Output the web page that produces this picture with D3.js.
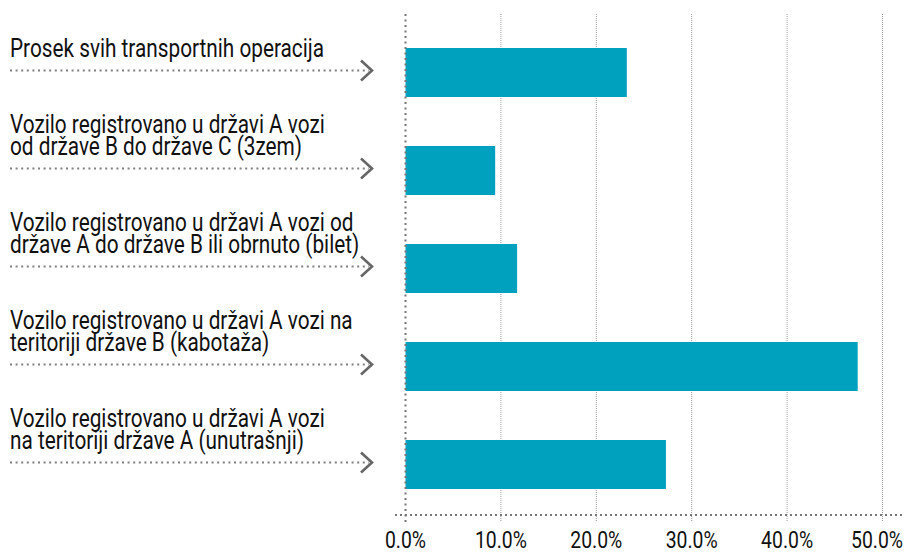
<!DOCTYPE html>
<html lang="sr">
<head>
<meta charset="UTF-8">
<title>Vozila</title>
<script src="https://cdn.jsdelivr.net/npm/d3@7"></script>
<style>
  body { margin: 0; background: #fff; }
  text { font-family: Roboto, "Noto Sans", sans-serif; fill: #111; }
</style>
</head>
<body>
<svg width="904" height="553"></svg>
<script>
// data
const categories = [
  ["Prosek svih transportnih operacija"],
  ["Vozilo registrovano u državi A vozi", "od države B do države C (3zem)"],
  ["Vozilo registrovano u državi A vozi od", "države A do države B ili obrnuto (bilet)"],
  ["Vozilo registrovano u državi A vozi na", "teritoriji države B (kabotaža)"],
  ["Vozilo registrovano u državi A vozi", "na teritoriji države A (unutrašnji)"]
];
const values = [23.2, 9.4, 11.7, 47.4, 27.3];
const ticks = [0, 10, 20, 30, 40, 50];

const svg = d3.select("svg");
const W = 904;
const barColor = "#00a1bf";
const labelSize = 26, tickSize = 24;

const x = d3.scaleLinear().domain([0, 50]).range([405.5, 882.5]);
const y = d3.scaleBand()
  .domain(d3.range(categories.length))
  .range([23.5, 513.5])
  .paddingInner(0.5)
  .paddingOuter(0.25);

const gridTop = 14, gridBottom = 522, axisY = 515;

// squeeze the font horizontally so it looks like a condensed face
function squeeze(str, size, target) {
  const t = svg.append("text").style("font-size", size + "px").text(str);
  const k = target / t.node().getComputedTextLength();
  t.remove();
  return k;
}
const sxLabel = squeeze(categories[1][0], labelSize, 315);
const sxTick = squeeze("10.0%", tickSize, 52);

// grid lines
svg.append("g").selectAll("line")
  .data(ticks.slice(1))
  .join("line")
  .attr("x1", d => x(d)).attr("x2", d => x(d))
  .attr("y1", gridTop).attr("y2", gridBottom)
  .attr("stroke", "#9a9a9a")
  .attr("stroke-width", 1)
  .attr("stroke-dasharray", "1,1");

// bars
svg.append("g").selectAll("rect")
  .data(values)
  .join("rect")
  .attr("x", x(0))
  .attr("y", (d, i) => y(i))
  .attr("width", d => x(d) - x(0))
  .attr("height", y.bandwidth())
  .attr("fill", barColor);

// zero line
svg.append("line")
  .attr("x1", x(0)).attr("x2", x(0))
  .attr("y1", gridTop).attr("y2", gridBottom)
  .attr("stroke", "#777")
  .attr("stroke-width", 2)
  .attr("stroke-dasharray", "2,3.5");

// bottom axis line
svg.append("line")
  .attr("x1", 395).attr("x2", W)
  .attr("y1", axisY).attr("y2", axisY)
  .attr("stroke", "#777")
  .attr("stroke-width", 2)
  .attr("stroke-dasharray", "2,3");

// tick labels
const tl = svg.append("g").selectAll("g")
  .data(ticks)
  .join("g");
tl.append("text")
  .attr("text-anchor", "middle")
  .style("font-size", tickSize + "px")
  .text(d => d.toFixed(1) + "%");
tl.attr("transform", function(d) {
  const w = this.firstChild.getComputedTextLength() * sxTick;
  const cx = Math.min(x(d), W - w / 2 - 1);
  return "translate(" + cx + ",548) scale(" + sxTick + ",1)";
});

// category labels with dotted arrows
const rows = svg.append("g").selectAll("g")
  .data(categories)
  .join("g")
  .attr("transform", (d, i) => "translate(0," + (y(i) + y.bandwidth() / 2 - 2) + ")");

rows.append("line")
  .attr("x1", 10).attr("x2", 369)
  .attr("y1", 0).attr("y2", 0)
  .attr("stroke", "#808080")
  .attr("stroke-width", 2)
  .attr("stroke-dasharray", "2,3.6");

rows.append("path")
  .attr("d", "M361,-10L372,0L361,10")
  .attr("fill", "none")
  .attr("stroke", "#666")
  .attr("stroke-width", 2.6);

rows.append("text")
  .attr("transform", "translate(10,0) scale(" + sxLabel + ",1)")
  .style("font-size", labelSize + "px")
  .selectAll("tspan")
  .data(d => d.map((t, j) => ({ t, j, n: d.length })))
  .join("tspan")
  .attr("x", 0)
  .attr("y", d => -14 - (d.n - 1 - d.j) * 22)
  .text(d => d.t);
</script>
</body>
</html>
